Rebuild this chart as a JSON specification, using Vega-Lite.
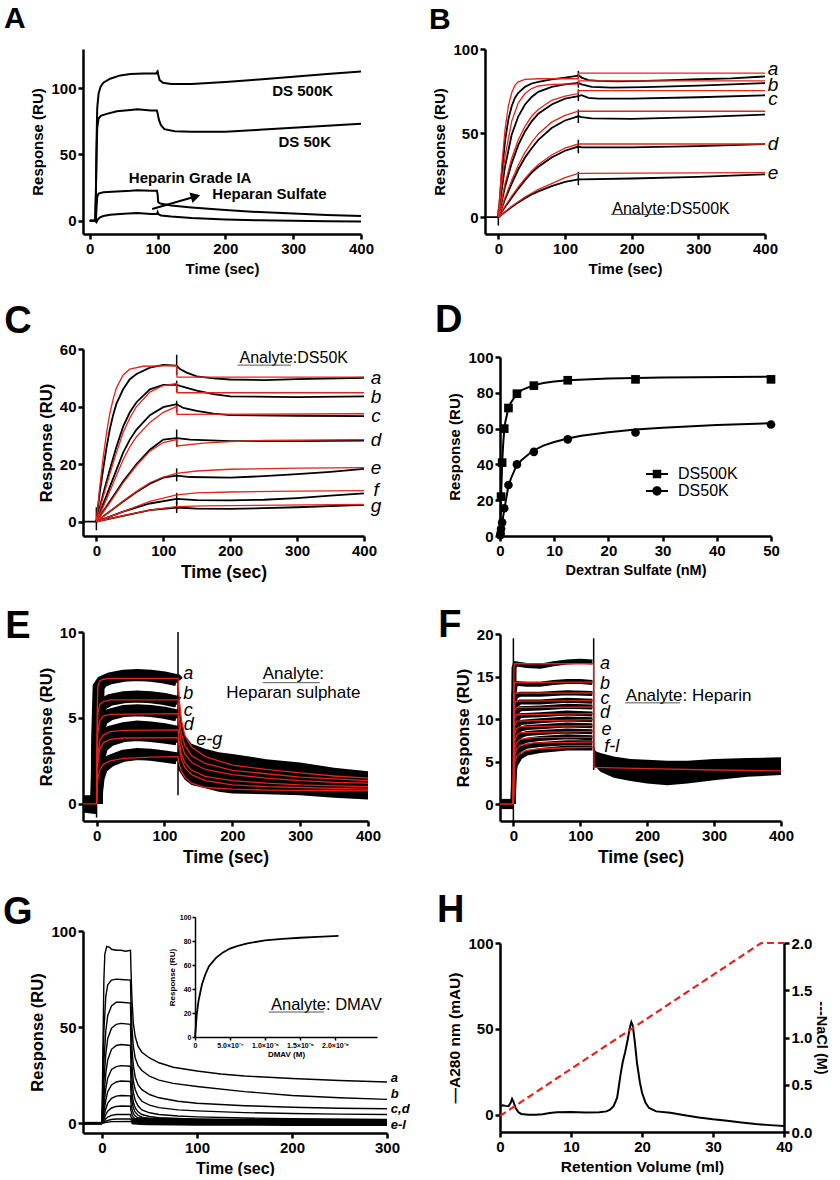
{
"$schema":"https://vega.github.io/schema/vega-lite/v6.json",
"background":"white",
"padding":{"left":2,"top":4,"right":0,"bottom":0},
"config":{"font":"Liberation Sans","view":{"stroke":null},
"axis":{"grid":false,"domainColor":"black","domainWidth":2.5,"tickColor":"black","tickWidth":2.5,"tickSize":5,"labelColor":"black","labelFont":"Liberation Sans","labelFontSize":15,"labelFontWeight":"bold","labelPadding":2,"titleColor":"black","titleFont":"Liberation Sans","titleFontSize":15.5,"titleFontWeight":"bold","titlePadding":5,"labelOverlap":false,"labelFlush":false},
"title":{"font":"Liberation Sans","fontSize":38,"fontWeight":"bold","anchor":"start","frame":"bounds","color":"black"},
"text":{"font":"Liberation Sans","color":"black"}},
"datasets":{
"A":[{"s":"p","t":0,"v":0},{"s":"p","t":8,"v":0},{"s":"p","t":9,"v":20},{"s":"p","t":10,"v":60},{"s":"p","t":11,"v":85},{"s":"p","t":13,"v":96},{"s":"p","t":16,"v":101},{"s":"p","t":20,"v":104},{"s":"p","t":30,"v":107},{"s":"p","t":45,"v":109.5},{"s":"p","t":60,"v":110.5},{"s":"p","t":80,"v":111},{"s":"p","t":98,"v":111},{"s":"p","t":100,"v":112.5},{"s":"p","t":101,"v":110},{"s":"p","t":103,"v":106},{"s":"p","t":108,"v":104},{"s":"p","t":120,"v":103},{"s":"p","t":150,"v":103},{"s":"p","t":200,"v":104.5},{"s":"p","t":250,"v":106.5},{"s":"p","t":300,"v":108.5},{"s":"p","t":350,"v":110.5},{"s":"p","t":400,"v":112.5},
{"s":"q","t":0,"v":0},{"s":"q","t":8,"v":0},{"s":"q","t":9,"v":20},{"s":"q","t":10,"v":50},{"s":"q","t":11,"v":70},{"s":"q","t":13,"v":77},{"s":"q","t":16,"v":79},{"s":"q","t":25,"v":80.5},{"s":"q","t":40,"v":82.5},{"s":"q","t":60,"v":83.5},{"s":"q","t":70,"v":84},{"s":"q","t":90,"v":83},{"s":"q","t":99,"v":83},{"s":"q","t":100,"v":81},{"s":"q","t":102,"v":76},{"s":"q","t":105,"v":72},{"s":"q","t":110,"v":69},{"s":"q","t":125,"v":67.5},{"s":"q","t":150,"v":67},{"s":"q","t":200,"v":67},{"s":"q","t":250,"v":68.5},{"s":"q","t":300,"v":70},{"s":"q","t":350,"v":71.5},{"s":"q","t":400,"v":73},
{"s":"r","t":0,"v":0},{"s":"r","t":8,"v":0},{"s":"r","t":9,"v":-0.5},{"s":"r","t":10,"v":10},{"s":"r","t":11,"v":18},{"s":"r","t":13,"v":20.5},{"s":"r","t":20,"v":21.5},{"s":"r","t":40,"v":22},{"s":"r","t":60,"v":22.5},{"s":"r","t":70,"v":23},{"s":"r","t":90,"v":22.5},{"s":"r","t":99,"v":22.5},{"s":"r","t":100,"v":20},{"s":"r","t":101,"v":14},{"s":"r","t":104,"v":13},{"s":"r","t":120,"v":11.5},{"s":"r","t":150,"v":10},{"s":"r","t":200,"v":8},{"s":"r","t":250,"v":6.5},{"s":"r","t":300,"v":5.5},{"s":"r","t":350,"v":4.3},{"s":"r","t":400,"v":3.5},
{"s":"s","t":0,"v":0},{"s":"s","t":8,"v":0},{"s":"s","t":10,"v":-1},{"s":"s","t":12,"v":1},{"s":"s","t":15,"v":2.5},{"s":"s","t":20,"v":3.5},{"s":"s","t":30,"v":4.5},{"s":"s","t":50,"v":5.3},{"s":"s","t":70,"v":5.8},{"s":"s","t":90,"v":5},{"s":"s","t":99,"v":5.2},{"s":"s","t":100,"v":6.5},{"s":"s","t":101,"v":5},{"s":"s","t":105,"v":4},{"s":"s","t":120,"v":3.2},{"s":"s","t":150,"v":2},{"s":"s","t":200,"v":1},{"s":"s","t":250,"v":0.3},{"s":"s","t":300,"v":0},{"s":"s","t":350,"v":-0.3},{"s":"s","t":400,"v":-0.5}],
"A_txt":[{"t":314,"v":98,"lab":"DS 500K"},{"t":317,"v":59,"lab":"DS 50K"},{"t":148,"v":32,"lab":"Heparin Grade IA"},{"t":265,"v":20,"lab":"Heparan Sulfate"}],
"A_arrow":[{"t":92,"v":8.8,"t2":156,"v2":18.3}],
"A_head":[{"t":156,"v":18.3}],
"B_dat":[{"c":"a","t":-20,"v":0},{"c":"a","t":0,"v":0},{"c":"a","t":5,"v":25},{"c":"a","t":10,"v":45},{"c":"a","t":15,"v":58},{"c":"a","t":20,"v":66},{"c":"a","t":25,"v":71},{"c":"a","t":30,"v":74},{"c":"a","t":40,"v":77.5},{"c":"a","t":50,"v":79.5},{"c":"a","t":60,"v":80.5},{"c":"a","t":80,"v":82},{"c":"a","t":100,"v":83},{"c":"a","t":118,"v":84},{"c":"a","t":120,"v":84.5},{"c":"a","t":125,"v":83},{"c":"a","t":135,"v":81.5},{"c":"a","t":150,"v":81},{"c":"a","t":180,"v":80.7},{"c":"a","t":220,"v":81},{"c":"a","t":260,"v":81.5},{"c":"a","t":300,"v":82},{"c":"a","t":350,"v":82.5},{"c":"a","t":400,"v":83.7},
{"c":"b","t":0,"v":0},{"c":"b","t":5,"v":16},{"c":"b","t":10,"v":30},{"c":"b","t":20,"v":49},{"c":"b","t":30,"v":60},{"c":"b","t":40,"v":67},{"c":"b","t":50,"v":71.5},{"c":"b","t":60,"v":74.5},{"c":"b","t":80,"v":77.5},{"c":"b","t":100,"v":79},{"c":"b","t":120,"v":79.8},{"c":"b","t":125,"v":79},{"c":"b","t":140,"v":77.5},{"c":"b","t":170,"v":77},{"c":"b","t":220,"v":77.3},{"c":"b","t":300,"v":78.2},{"c":"b","t":400,"v":79.7},
{"c":"c","t":0,"v":0},{"c":"c","t":10,"v":18},{"c":"c","t":20,"v":32},{"c":"c","t":30,"v":43},{"c":"c","t":40,"v":51},{"c":"c","t":50,"v":57},{"c":"c","t":60,"v":61.5},{"c":"c","t":80,"v":67},{"c":"c","t":100,"v":70.5},{"c":"c","t":120,"v":72},{"c":"c","t":125,"v":72.5},{"c":"c","t":135,"v":71},{"c":"c","t":150,"v":70.5},{"c":"c","t":200,"v":70.5},{"c":"c","t":300,"v":71.3},{"c":"c","t":400,"v":72.5},
{"c":"u","t":0,"v":0},{"c":"u","t":10,"v":10.5},{"c":"u","t":20,"v":20},{"c":"u","t":30,"v":28.5},{"c":"u","t":40,"v":35.5},{"c":"u","t":50,"v":41},{"c":"u","t":60,"v":46},{"c":"u","t":80,"v":53},{"c":"u","t":100,"v":57.5},{"c":"u","t":120,"v":60},{"c":"u","t":125,"v":59.5},{"c":"u","t":140,"v":58.8},{"c":"u","t":200,"v":58.5},{"c":"u","t":300,"v":59.5},{"c":"u","t":400,"v":61},
{"c":"d","t":0,"v":0},{"c":"d","t":10,"v":6},{"c":"d","t":20,"v":11.5},{"c":"d","t":30,"v":17},{"c":"d","t":40,"v":22},{"c":"d","t":50,"v":26.5},{"c":"d","t":60,"v":30},{"c":"d","t":80,"v":35.5},{"c":"d","t":100,"v":39.5},{"c":"d","t":120,"v":42},{"c":"d","t":125,"v":41.5},{"c":"d","t":200,"v":41.5},{"c":"d","t":300,"v":42.3},{"c":"d","t":400,"v":43.5},
{"c":"e","t":0,"v":0},{"c":"e","t":10,"v":3},{"c":"e","t":20,"v":6},{"c":"e","t":30,"v":8.8},{"c":"e","t":40,"v":11.3},{"c":"e","t":50,"v":13.5},{"c":"e","t":60,"v":15.3},{"c":"e","t":80,"v":18.5},{"c":"e","t":100,"v":21},{"c":"e","t":120,"v":22.5},{"c":"e","t":125,"v":22.5},{"c":"e","t":200,"v":23},{"c":"e","t":300,"v":24},{"c":"e","t":400,"v":25.5}],
"B_fit":[{"c":"a","t":0,"v":0},{"c":"a","t":5,"v":30},{"c":"a","t":10,"v":52},{"c":"a","t":15,"v":66},{"c":"a","t":20,"v":74},{"c":"a","t":25,"v":78.5},{"c":"a","t":30,"v":80.5},{"c":"a","t":40,"v":82},{"c":"a","t":60,"v":82.3},{"c":"a","t":120,"v":82.3},{"c":"a","t":120.5,"v":85.6},{"c":"a","t":400,"v":85.6},
{"c":"b","t":0,"v":0},{"c":"b","t":5,"v":20},{"c":"b","t":10,"v":36},{"c":"b","t":20,"v":57},{"c":"b","t":30,"v":68},{"c":"b","t":40,"v":73.5},{"c":"b","t":50,"v":76.5},{"c":"b","t":60,"v":78},{"c":"b","t":80,"v":79},{"c":"b","t":120,"v":79.3},{"c":"b","t":120.5,"v":81},{"c":"b","t":400,"v":81},
{"c":"c","t":0,"v":0},{"c":"c","t":10,"v":20},{"c":"c","t":20,"v":35},{"c":"c","t":30,"v":46},{"c":"c","t":40,"v":54},{"c":"c","t":50,"v":60},{"c":"c","t":60,"v":64},{"c":"c","t":80,"v":69.5},{"c":"c","t":100,"v":72},{"c":"c","t":120,"v":73.5},{"c":"c","t":120.5,"v":75.3},{"c":"c","t":400,"v":75.3},
{"c":"u","t":0,"v":0},{"c":"u","t":10,"v":11.5},{"c":"u","t":20,"v":22},{"c":"u","t":30,"v":31},{"c":"u","t":40,"v":38.5},{"c":"u","t":50,"v":44.5},{"c":"u","t":60,"v":49.5},{"c":"u","t":80,"v":56.5},{"c":"u","t":100,"v":60.5},{"c":"u","t":120,"v":63},{"c":"u","t":400,"v":63},
{"c":"d","t":0,"v":0},{"c":"d","t":10,"v":6.5},{"c":"d","t":20,"v":12.5},{"c":"d","t":30,"v":18},{"c":"d","t":40,"v":23},{"c":"d","t":50,"v":27.5},{"c":"d","t":60,"v":31.3},{"c":"d","t":80,"v":37},{"c":"d","t":100,"v":41},{"c":"d","t":120,"v":43.5},{"c":"d","t":400,"v":43.5},
{"c":"e","t":0,"v":0},{"c":"e","t":20,"v":6.5},{"c":"e","t":40,"v":12},{"c":"e","t":60,"v":16.5},{"c":"e","t":80,"v":20},{"c":"e","t":100,"v":23.5},{"c":"e","t":120,"v":26},{"c":"e","t":400,"v":26.5}],
"B_tk":[{"t":0,"v":-5,"v2":5},{"t":120,"v":19,"v2":27},{"t":120,"v":38,"v2":46},{"t":120,"v":56,"v2":64},{"t":120,"v":69,"v2":76},{"t":120,"v":77,"v2":81},{"t":120,"v":82,"v2":87}],
"B_txt":[{"t":412,"v":88,"lab":"a"},{"t":412,"v":78.5,"lab":"b"},{"t":412,"v":70,"lab":"c"},{"t":412,"v":43.5,"lab":"d"},{"t":412,"v":26,"lab":"e"}],
"B_an":[{"t":259,"v":5,"lab":"Analyte:DS500K"}],
"B_ul":[{"t":169,"t2":249,"v":1.6}],
"C_dat":[{"c":"a","t":-20,"v":0},{"c":"a","t":0,"v":0},{"c":"a","t":5,"v":10},{"c":"a","t":10,"v":18},{"c":"a","t":15,"v":25.5},{"c":"a","t":20,"v":32},{"c":"a","t":25,"v":37},{"c":"a","t":30,"v":41},{"c":"a","t":40,"v":46},{"c":"a","t":50,"v":49.5},{"c":"a","t":60,"v":51.3},{"c":"a","t":80,"v":53.5},{"c":"a","t":100,"v":54.5},{"c":"a","t":120,"v":54.2},{"c":"a","t":125,"v":53},{"c":"a","t":135,"v":51.8},{"c":"a","t":150,"v":50.5},{"c":"a","t":175,"v":49.8},{"c":"a","t":200,"v":49.4},{"c":"a","t":250,"v":49.2},{"c":"a","t":300,"v":49.5},{"c":"a","t":400,"v":50},
{"c":"b","t":0,"v":0},{"c":"b","t":10,"v":9.5},{"c":"b","t":20,"v":18},{"c":"b","t":30,"v":26},{"c":"b","t":40,"v":33},{"c":"b","t":50,"v":38},{"c":"b","t":60,"v":41.5},{"c":"b","t":80,"v":46},{"c":"b","t":100,"v":47.5},{"c":"b","t":120,"v":47.5},{"c":"b","t":130,"v":46.8},{"c":"b","t":150,"v":45.5},{"c":"b","t":175,"v":44.3},{"c":"b","t":200,"v":43.5},{"c":"b","t":300,"v":43.3},{"c":"b","t":400,"v":43.5},
{"c":"c","t":0,"v":0},{"c":"c","t":10,"v":6},{"c":"c","t":20,"v":12},{"c":"c","t":30,"v":18},{"c":"c","t":40,"v":24},{"c":"c","t":50,"v":28.5},{"c":"c","t":60,"v":32},{"c":"c","t":80,"v":37},{"c":"c","t":100,"v":39.8},{"c":"c","t":120,"v":40.8},{"c":"c","t":130,"v":39.5},{"c":"c","t":150,"v":38.5},{"c":"c","t":175,"v":37.5},{"c":"c","t":200,"v":37},{"c":"c","t":300,"v":36.8},{"c":"c","t":400,"v":36.7},
{"c":"d","t":0,"v":0},{"c":"d","t":10,"v":3.5},{"c":"d","t":20,"v":7},{"c":"d","t":30,"v":10.5},{"c":"d","t":40,"v":14},{"c":"d","t":50,"v":17},{"c":"d","t":60,"v":20},{"c":"d","t":80,"v":25},{"c":"d","t":100,"v":28.5},{"c":"d","t":120,"v":29},{"c":"d","t":140,"v":28.5},{"c":"d","t":200,"v":28},{"c":"d","t":300,"v":28},{"c":"d","t":400,"v":28.2},
{"c":"e","t":0,"v":0},{"c":"e","t":20,"v":3.5},{"c":"e","t":40,"v":7},{"c":"e","t":60,"v":10.3},{"c":"e","t":80,"v":13.2},{"c":"e","t":100,"v":15.3},{"c":"e","t":120,"v":16},{"c":"e","t":140,"v":15.5},{"c":"e","t":200,"v":15.3},{"c":"e","t":250,"v":15.8},{"c":"e","t":300,"v":16.5},{"c":"e","t":350,"v":17.3},{"c":"e","t":400,"v":18.3},
{"c":"f","t":0,"v":0},{"c":"f","t":40,"v":3.5},{"c":"f","t":80,"v":6.3},{"c":"f","t":120,"v":7.9},{"c":"f","t":150,"v":7.5},{"c":"f","t":200,"v":7.4},{"c":"f","t":250,"v":7.6},{"c":"f","t":300,"v":8.2},{"c":"f","t":350,"v":9},{"c":"f","t":400,"v":9.8},
{"c":"g","t":0,"v":0},{"c":"g","t":40,"v":2},{"c":"g","t":80,"v":4},{"c":"g","t":120,"v":4.9},{"c":"g","t":150,"v":4.5},{"c":"g","t":200,"v":4.4},{"c":"g","t":300,"v":5},{"c":"g","t":400,"v":5.8}],
"C_fit":[{"c":"a","t":0,"v":0},{"c":"a","t":5,"v":12},{"c":"a","t":10,"v":22},{"c":"a","t":15,"v":30.5},{"c":"a","t":20,"v":37.5},{"c":"a","t":25,"v":42.5},{"c":"a","t":30,"v":46.5},{"c":"a","t":40,"v":51},{"c":"a","t":50,"v":53},{"c":"a","t":70,"v":54},{"c":"a","t":120,"v":54.2},{"c":"a","t":120.5,"v":50.2},{"c":"a","t":400,"v":50.2},
{"c":"b","t":0,"v":0},{"c":"b","t":10,"v":8.5},{"c":"b","t":20,"v":16.5},{"c":"b","t":30,"v":24},{"c":"b","t":40,"v":31},{"c":"b","t":50,"v":36},{"c":"b","t":60,"v":40},{"c":"b","t":80,"v":45},{"c":"b","t":100,"v":47.3},{"c":"b","t":120,"v":48},{"c":"b","t":120.5,"v":44.8},{"c":"b","t":400,"v":44.8},
{"c":"c","t":0,"v":0},{"c":"c","t":10,"v":5},{"c":"c","t":20,"v":10.5},{"c":"c","t":30,"v":16},{"c":"c","t":40,"v":21.5},{"c":"c","t":50,"v":26},{"c":"c","t":60,"v":29.5},{"c":"c","t":80,"v":34.5},{"c":"c","t":100,"v":38},{"c":"c","t":120,"v":40},{"c":"c","t":120.5,"v":37.3},{"c":"c","t":400,"v":37.5},
{"c":"d","t":0,"v":0},{"c":"d","t":20,"v":6.5},{"c":"d","t":40,"v":13.5},{"c":"d","t":60,"v":19.5},{"c":"d","t":80,"v":24.5},{"c":"d","t":100,"v":27.5},{"c":"d","t":120,"v":28.5},{"c":"d","t":120.5,"v":26.3},{"c":"d","t":160,"v":27.3},{"c":"d","t":200,"v":27.8},{"c":"d","t":250,"v":28.2},{"c":"d","t":400,"v":28.5},
{"c":"e","t":0,"v":0},{"c":"e","t":20,"v":3.5},{"c":"e","t":40,"v":7.2},{"c":"e","t":60,"v":10.5},{"c":"e","t":80,"v":13.5},{"c":"e","t":100,"v":15.5},{"c":"e","t":120,"v":16.8},{"c":"e","t":150,"v":17.6},{"c":"e","t":200,"v":18.2},{"c":"e","t":300,"v":18.6},{"c":"e","t":400,"v":18.8},
{"c":"f","t":0,"v":0},{"c":"f","t":40,"v":3.5},{"c":"f","t":80,"v":7},{"c":"f","t":120,"v":9.3},{"c":"f","t":150,"v":10},{"c":"f","t":200,"v":10.3},{"c":"f","t":300,"v":10.6},{"c":"f","t":400,"v":10.8},
{"c":"g","t":0,"v":0},{"c":"g","t":40,"v":2.1},{"c":"g","t":80,"v":4},{"c":"g","t":120,"v":5.2},{"c":"g","t":160,"v":5.5},{"c":"g","t":400,"v":6}],
"C_tk":[{"t":0,"v":-3,"v2":5},{"t":120,"v":3,"v2":7},{"t":120,"v":6,"v2":10},{"t":120,"v":14,"v2":18.5},{"t":120,"v":26,"v2":32},{"t":120,"v":38,"v2":42},{"t":120,"v":45,"v2":49},{"t":120,"v":51,"v2":58}],
"C_txt":[{"t":418,"v":50,"lab":"a"},{"t":418,"v":43.2,"lab":"b"},{"t":418,"v":36.8,"lab":"c"},{"t":418,"v":28.5,"lab":"d"},{"t":418,"v":18.5,"lab":"e"},{"t":418,"v":11,"lab":"f"},{"t":418,"v":5.5,"lab":"g"}],
"C_an":[{"t":295,"v":56.8,"lab":"Analyte:DS50K"}],
"C_ul":[{"t":211,"t2":291,"v":54.4}],
"D_pts":[{"s":"DS500K","t":0.195,"v":22},{"s":"DS500K","t":0.39,"v":41},{"s":"DS500K","t":0.78,"v":60},{"s":"DS500K","t":1.56,"v":71.5},{"s":"DS500K","t":3.125,"v":79.5},{"s":"DS500K","t":6.25,"v":84},{"s":"DS500K","t":12.5,"v":87},{"s":"DS500K","t":25,"v":87.5},{"s":"DS500K","t":50,"v":87.5},
{"s":"DS50K","t":0.05,"v":0.5},{"s":"DS50K","t":0.1,"v":1.5},{"s":"DS50K","t":0.195,"v":4},{"s":"DS50K","t":0.39,"v":7.5},{"s":"DS50K","t":0.78,"v":15.5},{"s":"DS50K","t":1.56,"v":28.5},{"s":"DS50K","t":3.125,"v":40},{"s":"DS50K","t":6.25,"v":47},{"s":"DS50K","t":12.5,"v":54},{"s":"DS50K","t":25,"v":57.8},{"s":"DS50K","t":50,"v":62.3}],
"D_fit":[{"series":"DS500K","t":0,"v":0},{"series":"DS500K","t":0.2,"v":22},{"series":"DS500K","t":0.4,"v":41},{"series":"DS500K","t":0.6,"v":52},{"series":"DS500K","t":0.8,"v":60},{"series":"DS500K","t":1,"v":64},{"series":"DS500K","t":1.56,"v":71.5},{"series":"DS500K","t":2,"v":74.5},{"series":"DS500K","t":3,"v":79},{"series":"DS500K","t":4,"v":81.5},{"series":"DS500K","t":6,"v":84},{"series":"DS500K","t":8,"v":85.5},{"series":"DS500K","t":10,"v":86.3},{"series":"DS500K","t":12.5,"v":87},{"series":"DS500K","t":20,"v":88},{"series":"DS500K","t":30,"v":88.5},{"series":"DS500K","t":50,"v":89},
{"series":"DS50K","t":0,"v":0},{"series":"DS50K","t":0.4,"v":7.5},{"series":"DS50K","t":0.8,"v":15},{"series":"DS50K","t":1.5,"v":27},{"series":"DS50K","t":2,"v":32},{"series":"DS50K","t":3,"v":39},{"series":"DS50K","t":4,"v":42.5},{"series":"DS50K","t":6,"v":47.5},{"series":"DS50K","t":8,"v":50.5},{"series":"DS50K","t":10,"v":52.5},{"series":"DS50K","t":12.5,"v":54.5},{"series":"DS50K","t":15,"v":56},{"series":"DS50K","t":20,"v":58},{"series":"DS50K","t":25,"v":59.5},{"series":"DS50K","t":30,"v":60.5},{"series":"DS50K","t":40,"v":62},{"series":"DS50K","t":50,"v":63}],
"E_blk":[{"c":"a","t":0,"v":0},{"c":"a","t":1,"v":4},{"c":"a","t":3,"v":6.8},{"c":"a","t":8,"v":7.1},{"c":"a","t":20,"v":7.3},{"c":"a","t":40,"v":7.45},{"c":"a","t":60,"v":7.5},{"c":"a","t":80,"v":7.45},{"c":"a","t":100,"v":7.35},{"c":"a","t":118,"v":7.2},{"c":"a","t":120,"v":7.1},
{"c":"b","t":0,"v":0},{"c":"b","t":1,"v":3},{"c":"b","t":3,"v":5.3},{"c":"b","t":8,"v":5.8},{"c":"b","t":20,"v":6.05},{"c":"b","t":40,"v":6.2},{"c":"b","t":60,"v":6.25},{"c":"b","t":80,"v":6.2},{"c":"b","t":100,"v":6.1},{"c":"b","t":118,"v":5.95},{"c":"b","t":120,"v":5.9},
{"c":"c","t":0,"v":0},{"c":"c","t":1,"v":2.3},{"c":"c","t":3,"v":4.2},{"c":"c","t":8,"v":4.9},{"c":"c","t":20,"v":5.2},{"c":"c","t":40,"v":5.4},{"c":"c","t":60,"v":5.45},{"c":"c","t":80,"v":5.4},{"c":"c","t":100,"v":5.3},{"c":"c","t":118,"v":5.15},{"c":"c","t":120,"v":5.1},
{"c":"d","t":0,"v":0},{"c":"d","t":1,"v":1.5},{"c":"d","t":3,"v":3},{"c":"d","t":8,"v":3.8},{"c":"d","t":20,"v":4.2},{"c":"d","t":40,"v":4.4},{"c":"d","t":60,"v":4.5},{"c":"d","t":80,"v":4.45},{"c":"d","t":100,"v":4.35},{"c":"d","t":118,"v":4.2},{"c":"d","t":120,"v":4.1},
{"c":"e","t":0,"v":0},{"c":"e","t":1,"v":1.2},{"c":"e","t":3,"v":2.5},{"c":"e","t":8,"v":3.3},{"c":"e","t":20,"v":3.7},{"c":"e","t":40,"v":3.95},{"c":"e","t":60,"v":4},{"c":"e","t":80,"v":3.95},{"c":"e","t":100,"v":3.85},{"c":"e","t":118,"v":3.75},{"c":"e","t":120,"v":3.6},
{"c":"f","t":0,"v":0},{"c":"f","t":1,"v":0.8},{"c":"f","t":3,"v":1.5},{"c":"f","t":8,"v":2.1},{"c":"f","t":20,"v":2.5},{"c":"f","t":40,"v":2.8},{"c":"f","t":60,"v":2.9},{"c":"f","t":80,"v":2.85},{"c":"f","t":100,"v":2.75},{"c":"f","t":118,"v":2.65},{"c":"f","t":120,"v":2.6}],
"E_env":[{"g":"base","t":-20,"v":-0.5,"v2":0.5},{"g":"base","t":0,"v":-0.6,"v2":0.5},
{"g":"diss","t":120,"v":2,"v2":7.3},{"g":"diss","t":122,"v":1.9,"v2":6},{"g":"diss","t":125,"v":1.7,"v2":4.8},{"g":"diss","t":130,"v":1.4,"v2":4},{"g":"diss","t":140,"v":1.1,"v2":3.5},{"g":"diss","t":160,"v":0.9,"v2":3.2},{"g":"diss","t":180,"v":0.7,"v2":3},{"g":"diss","t":200,"v":0.6,"v2":2.9},{"g":"diss","t":250,"v":0.55,"v2":2.6},{"g":"diss","t":300,"v":0.5,"v2":2.4},{"g":"diss","t":350,"v":0.35,"v2":2.1},{"g":"diss","t":400,"v":0.25,"v2":1.9}],
"E_fit":[{"c":"a","t":-20,"v":0},{"c":"a","t":0,"v":0},{"c":"a","t":1,"v":5.5},{"c":"a","t":2,"v":6.9},{"c":"a","t":5,"v":7.15},{"c":"a","t":10,"v":7.25},{"c":"a","t":20,"v":7.3},{"c":"a","t":120,"v":7.3},{"c":"a","t":122,"v":6},{"c":"a","t":125,"v":4.9},{"c":"a","t":130,"v":4},{"c":"a","t":140,"v":3.3},{"c":"a","t":160,"v":2.75},{"c":"a","t":200,"v":2.25},{"c":"a","t":250,"v":2},{"c":"a","t":300,"v":1.8},{"c":"a","t":350,"v":1.62},{"c":"a","t":400,"v":1.5},
{"c":"b","t":0,"v":0},{"c":"b","t":1,"v":4},{"c":"b","t":2,"v":5.3},{"c":"b","t":5,"v":5.8},{"c":"b","t":10,"v":5.95},{"c":"b","t":20,"v":6.05},{"c":"b","t":120,"v":6.05},{"c":"b","t":122,"v":5},{"c":"b","t":125,"v":4.1},{"c":"b","t":130,"v":3.4},{"c":"b","t":140,"v":2.8},{"c":"b","t":160,"v":2.35},{"c":"b","t":200,"v":1.95},{"c":"b","t":250,"v":1.75},{"c":"b","t":300,"v":1.55},{"c":"b","t":350,"v":1.45},{"c":"b","t":400,"v":1.35},
{"c":"c","t":0,"v":0},{"c":"c","t":1,"v":3},{"c":"c","t":2,"v":4.2},{"c":"c","t":5,"v":4.85},{"c":"c","t":10,"v":5.1},{"c":"c","t":20,"v":5.2},{"c":"c","t":120,"v":5.25},{"c":"c","t":122,"v":4.3},{"c":"c","t":125,"v":3.5},{"c":"c","t":130,"v":2.9},{"c":"c","t":140,"v":2.4},{"c":"c","t":160,"v":2},{"c":"c","t":200,"v":1.7},{"c":"c","t":250,"v":1.5},{"c":"c","t":300,"v":1.35},{"c":"c","t":350,"v":1.25},{"c":"c","t":400,"v":1.2},
{"c":"d","t":0,"v":0},{"c":"d","t":1,"v":2},{"c":"d","t":2,"v":2.9},{"c":"d","t":5,"v":3.7},{"c":"d","t":10,"v":4},{"c":"d","t":20,"v":4.2},{"c":"d","t":40,"v":4.28},{"c":"d","t":120,"v":4.3},{"c":"d","t":122,"v":3.6},{"c":"d","t":125,"v":2.9},{"c":"d","t":130,"v":2.4},{"c":"d","t":140,"v":1.95},{"c":"d","t":160,"v":1.6},{"c":"d","t":200,"v":1.35},{"c":"d","t":250,"v":1.2},{"c":"d","t":300,"v":1.1},{"c":"d","t":350,"v":1.05},{"c":"d","t":400,"v":1},
{"c":"e","t":0,"v":0},{"c":"e","t":1,"v":1.6},{"c":"e","t":2,"v":2.4},{"c":"e","t":5,"v":3.2},{"c":"e","t":10,"v":3.55},{"c":"e","t":20,"v":3.75},{"c":"e","t":40,"v":3.83},{"c":"e","t":120,"v":3.85},{"c":"e","t":122,"v":3.2},{"c":"e","t":125,"v":2.6},{"c":"e","t":130,"v":2.1},{"c":"e","t":140,"v":1.7},{"c":"e","t":160,"v":1.35},{"c":"e","t":200,"v":1.1},{"c":"e","t":250,"v":1},{"c":"e","t":300,"v":0.95},{"c":"e","t":350,"v":0.9},{"c":"e","t":400,"v":0.85},
{"c":"f","t":0,"v":0},{"c":"f","t":1,"v":1},{"c":"f","t":2,"v":1.5},{"c":"f","t":5,"v":2},{"c":"f","t":10,"v":2.3},{"c":"f","t":20,"v":2.5},{"c":"f","t":40,"v":2.65},{"c":"f","t":80,"v":2.72},{"c":"f","t":120,"v":2.75},{"c":"f","t":122,"v":2.3},{"c":"f","t":125,"v":1.9},{"c":"f","t":130,"v":1.55},{"c":"f","t":140,"v":1.2},{"c":"f","t":160,"v":0.95},{"c":"f","t":200,"v":0.85},{"c":"f","t":250,"v":0.8},{"c":"f","t":300,"v":0.78},{"c":"f","t":350,"v":0.76},{"c":"f","t":400,"v":0.75}],
"E_tk":[{"t":0,"v":-0.8,"v2":1},{"t":120,"v":0.5,"v2":10}],
"E_txt":[{"t":135,"v":7.55,"lab":"a"},{"t":135,"v":6.4,"lab":"b"},{"t":135,"v":5.43,"lab":"c"},{"t":136,"v":4.6,"lab":"d"},{"t":166,"v":3.7,"lab":"e-g"}],
"E_an":[{"t":290,"v":7.55,"lab":"Analyte:"},{"t":290,"v":6.45,"lab":"Heparan sulphate"}],
"E_ul":[{"t":245,"t2":329,"v":7.05}],
"F_blk":[{"c":"a","t":0,"v":0},{"c":"a","t":0.5,"v":12},{"c":"a","t":1,"v":16},{"c":"a","t":3,"v":16.5},{"c":"a","t":20,"v":16.3},{"c":"a","t":40,"v":16.2},{"c":"a","t":60,"v":16.5},{"c":"a","t":80,"v":16.7},{"c":"a","t":100,"v":16.8},{"c":"a","t":118,"v":16.7},
{"c":"b","t":0,"v":0},{"c":"b","t":0.5,"v":9},{"c":"b","t":1,"v":13},{"c":"b","t":3,"v":14.2},{"c":"b","t":20,"v":14.1},{"c":"b","t":40,"v":14.1},{"c":"b","t":60,"v":14.3},{"c":"b","t":80,"v":14.4},{"c":"b","t":100,"v":14.4},{"c":"b","t":118,"v":14.3},
{"c":"c","t":0,"v":0},{"c":"c","t":0.5,"v":8},{"c":"c","t":1,"v":11.5},{"c":"c","t":3,"v":12.7},{"c":"c","t":10,"v":12.9},{"c":"c","t":40,"v":12.9},{"c":"c","t":80,"v":13.1},{"c":"c","t":118,"v":13},
{"c":"d","t":0,"v":0},{"c":"d","t":0.5,"v":7},{"c":"d","t":1,"v":10},{"c":"d","t":3,"v":11.6},{"c":"d","t":10,"v":12},{"c":"d","t":40,"v":12},{"c":"d","t":80,"v":12.2},{"c":"d","t":118,"v":12.1},
{"c":"e","t":0,"v":0},{"c":"e","t":0.5,"v":6},{"c":"e","t":1,"v":9},{"c":"e","t":3,"v":10.7},{"c":"e","t":10,"v":11.2},{"c":"e","t":40,"v":11.3},{"c":"e","t":80,"v":11.5},{"c":"e","t":118,"v":11.4},
{"c":"f","t":0,"v":0},{"c":"f","t":0.5,"v":5.5},{"c":"f","t":1,"v":8},{"c":"f","t":3,"v":9.8},{"c":"f","t":10,"v":10.4},{"c":"f","t":40,"v":10.5},{"c":"f","t":80,"v":10.7},{"c":"f","t":118,"v":10.6},
{"c":"g","t":0,"v":0},{"c":"g","t":0.5,"v":5},{"c":"g","t":1,"v":7},{"c":"g","t":3,"v":8.9},{"c":"g","t":10,"v":9.6},{"c":"g","t":40,"v":9.8},{"c":"g","t":80,"v":10},{"c":"g","t":118,"v":9.9},
{"c":"h","t":0,"v":0},{"c":"h","t":0.5,"v":4.5},{"c":"h","t":1,"v":6.3},{"c":"h","t":3,"v":8},{"c":"h","t":10,"v":8.8},{"c":"h","t":20,"v":9},{"c":"h","t":40,"v":9.1},{"c":"h","t":80,"v":9.3},{"c":"h","t":118,"v":9.2},
{"c":"i","t":0,"v":0},{"c":"i","t":0.5,"v":4},{"c":"i","t":1,"v":5.6},{"c":"i","t":3,"v":7.1},{"c":"i","t":10,"v":8},{"c":"i","t":20,"v":8.3},{"c":"i","t":40,"v":8.4},{"c":"i","t":80,"v":8.6},{"c":"i","t":118,"v":8.5},
{"c":"j","t":0,"v":0},{"c":"j","t":0.5,"v":3.5},{"c":"j","t":1,"v":5},{"c":"j","t":3,"v":6.3},{"c":"j","t":10,"v":7.2},{"c":"j","t":20,"v":7.5},{"c":"j","t":40,"v":7.7},{"c":"j","t":80,"v":7.9},{"c":"j","t":118,"v":7.8},
{"c":"k","t":0,"v":0},{"c":"k","t":0.5,"v":3},{"c":"k","t":1,"v":4.3},{"c":"k","t":3,"v":5.5},{"c":"k","t":10,"v":6.4},{"c":"k","t":20,"v":6.8},{"c":"k","t":40,"v":7},{"c":"k","t":80,"v":7.2},{"c":"k","t":118,"v":7.2},
{"c":"l","t":0,"v":0},{"c":"l","t":0.5,"v":2.5},{"c":"l","t":1,"v":3.6},{"c":"l","t":3,"v":4.6},{"c":"l","t":10,"v":5.5},{"c":"l","t":20,"v":6},{"c":"l","t":40,"v":6.3},{"c":"l","t":80,"v":6.6},{"c":"l","t":118,"v":6.6}],
"F_env":[{"g":"base","t":-20,"v":-0.6,"v2":0.6},{"g":"base","t":0,"v":-0.6,"v2":0.6},
{"g":"diss","t":120,"v":4.2,"v2":7},{"g":"diss","t":123,"v":4.4,"v2":6.2},{"g":"diss","t":130,"v":3.8,"v2":6},{"g":"diss","t":150,"v":3.1,"v2":5.6},{"g":"diss","t":175,"v":2.7,"v2":5.3},{"g":"diss","t":200,"v":2.4,"v2":5.2},{"g":"diss","t":230,"v":2.2,"v2":5.1},{"g":"diss","t":260,"v":2.4,"v2":5.1},{"g":"diss","t":300,"v":2.8,"v2":5.3},{"g":"diss","t":350,"v":3.2,"v2":5.4},{"g":"diss","t":400,"v":3.4,"v2":5.5}],
"F_fit":[{"c":"a","t":-20,"v":0},{"c":"a","t":0,"v":0},{"c":"a","t":0.5,"v":13},{"c":"a","t":1,"v":16.2},{"c":"a","t":2,"v":16.5},{"c":"a","t":120,"v":16.5},
{"c":"b","t":0,"v":0},{"c":"b","t":0.5,"v":11},{"c":"b","t":1,"v":13.8},{"c":"b","t":2,"v":14.3},{"c":"b","t":120,"v":14.35},
{"c":"c","t":0,"v":0},{"c":"c","t":0.5,"v":9.5},{"c":"c","t":1,"v":12.3},{"c":"c","t":2,"v":12.9},{"c":"c","t":5,"v":13.05},{"c":"c","t":120,"v":13.06},
{"c":"d","t":0,"v":0},{"c":"d","t":0.5,"v":8.5},{"c":"d","t":1,"v":11.2},{"c":"d","t":2,"v":11.9},{"c":"d","t":5,"v":12.1},{"c":"d","t":120,"v":12.16},
{"c":"e","t":0,"v":0},{"c":"e","t":0.5,"v":7.5},{"c":"e","t":1,"v":10.2},{"c":"e","t":2,"v":11},{"c":"e","t":5,"v":11.35},{"c":"e","t":120,"v":11.41},
{"c":"f","t":0,"v":0},{"c":"f","t":0.5,"v":6.5},{"c":"f","t":1,"v":9.2},{"c":"f","t":2,"v":10.1},{"c":"f","t":5,"v":10.5},{"c":"f","t":120,"v":10.63},
{"c":"g","t":0,"v":0},{"c":"g","t":0.5,"v":5.8},{"c":"g","t":1,"v":8.2},{"c":"g","t":2,"v":9.2},{"c":"g","t":5,"v":9.75},{"c":"g","t":120,"v":9.92},
{"c":"h","t":0,"v":0},{"c":"h","t":0.5,"v":5},{"c":"h","t":1,"v":7.2},{"c":"h","t":2,"v":8.3},{"c":"h","t":5,"v":8.9},{"c":"h","t":10,"v":9.1},{"c":"h","t":120,"v":9.22},
{"c":"i","t":0,"v":0},{"c":"i","t":0.5,"v":4.4},{"c":"i","t":1,"v":6.3},{"c":"i","t":2,"v":7.4},{"c":"i","t":5,"v":8.1},{"c":"i","t":10,"v":8.4},{"c":"i","t":120,"v":8.55},
{"c":"j","t":0,"v":0},{"c":"j","t":0.5,"v":3.8},{"c":"j","t":1,"v":5.5},{"c":"j","t":2,"v":6.5},{"c":"j","t":5,"v":7.2},{"c":"j","t":10,"v":7.6},{"c":"j","t":30,"v":7.8},{"c":"j","t":120,"v":7.84},
{"c":"k","t":0,"v":0},{"c":"k","t":0.5,"v":3.2},{"c":"k","t":1,"v":4.7},{"c":"k","t":2,"v":5.7},{"c":"k","t":5,"v":6.5},{"c":"k","t":10,"v":6.9},{"c":"k","t":30,"v":7.2},{"c":"k","t":120,"v":7.29},
{"c":"l","t":0,"v":0},{"c":"l","t":0.5,"v":2.7},{"c":"l","t":1,"v":4},{"c":"l","t":2,"v":4.9},{"c":"l","t":5,"v":5.6},{"c":"l","t":10,"v":6},{"c":"l","t":20,"v":6.3},{"c":"l","t":40,"v":6.5},{"c":"l","t":80,"v":6.62},{"c":"l","t":120,"v":6.67},
{"c":"z","t":120,"v":16.5},{"c":"z","t":120.5,"v":4.3},{"c":"z","t":150,"v":4.25},{"c":"z","t":200,"v":4.15},{"c":"z","t":300,"v":4},{"c":"z","t":400,"v":3.9}],
"F_tk":[{"t":0,"v":-2,"v2":19.5},{"t":120,"v":4,"v2":19.5}],
"F_txt":[{"t":137,"v":16.5,"lab":"a"},{"t":137,"v":14.1,"lab":"b"},{"t":137,"v":12.3,"lab":"c"},{"t":137,"v":10.7,"lab":"d"},{"t":139,"v":8.75,"lab":"e"},{"t":147,"v":6.7,"lab":"f-l"}],
"F_an":[{"t":262,"v":12.7,"lab":"Analyte: Heparin"}],
"F_ul":[{"t":167,"t2":249,"v":11.9}],
"G":[{"c":"a","t":-20,"v":0},{"c":"a","t":0,"v":0},{"c":"a","t":1,"v":40},{"c":"a","t":2,"v":75},{"c":"a","t":3,"v":88},{"c":"a","t":5,"v":92},{"c":"a","t":8,"v":91.5},{"c":"a","t":10,"v":90.5},{"c":"a","t":15,"v":90},{"c":"a","t":20,"v":90},{"c":"a","t":25,"v":89.5},{"c":"a","t":30,"v":90},{"c":"a","t":30.5,"v":80},{"c":"a","t":31.5,"v":65},{"c":"a","t":33,"v":52},{"c":"a","t":35,"v":45},{"c":"a","t":38,"v":40},{"c":"a","t":42,"v":37},{"c":"a","t":50,"v":34},{"c":"a","t":60,"v":31.5},{"c":"a","t":75,"v":29.2},{"c":"a","t":100,"v":27.2},{"c":"a","t":125,"v":25.7},{"c":"a","t":150,"v":24.6},{"c":"a","t":200,"v":23.3},{"c":"a","t":250,"v":22.3},{"c":"a","t":300,"v":21.5},
{"c":"b","t":0,"v":0},{"c":"b","t":1,"v":25},{"c":"b","t":2,"v":48},{"c":"b","t":4,"v":66},{"c":"b","t":6,"v":72},{"c":"b","t":10,"v":74.5},{"c":"b","t":15,"v":75},{"c":"b","t":20,"v":74.8},{"c":"b","t":30,"v":74.5},{"c":"b","t":30.5,"v":62},{"c":"b","t":31.5,"v":50},{"c":"b","t":33,"v":40},{"c":"b","t":35,"v":34},{"c":"b","t":38,"v":30},{"c":"b","t":42,"v":27.5},{"c":"b","t":50,"v":24.5},{"c":"b","t":60,"v":22.5},{"c":"b","t":75,"v":20.8},{"c":"b","t":100,"v":19.2},{"c":"b","t":150,"v":16.5},{"c":"b","t":200,"v":14.5},{"c":"b","t":250,"v":13.3},{"c":"b","t":300,"v":12.5},
{"c":"c","t":0,"v":0},{"c":"c","t":1,"v":15},{"c":"c","t":2,"v":32},{"c":"c","t":4,"v":48},{"c":"c","t":6,"v":56},{"c":"c","t":10,"v":61},{"c":"c","t":15,"v":63},{"c":"c","t":20,"v":63},{"c":"c","t":30,"v":62.5},{"c":"c","t":30.5,"v":50},{"c":"c","t":31.5,"v":39},{"c":"c","t":33,"v":30},{"c":"c","t":35,"v":24},{"c":"c","t":38,"v":20},{"c":"c","t":42,"v":17.5},{"c":"c","t":50,"v":15},{"c":"c","t":60,"v":13.3},{"c":"c","t":80,"v":11.5},{"c":"c","t":100,"v":10.5},{"c":"c","t":150,"v":9.2},{"c":"c","t":200,"v":8.4},{"c":"c","t":250,"v":7.9},{"c":"c","t":300,"v":7.6},
{"c":"d","t":0,"v":0},{"c":"d","t":1,"v":10},{"c":"d","t":2,"v":22},{"c":"d","t":4,"v":36},{"c":"d","t":6,"v":44},{"c":"d","t":10,"v":49.5},{"c":"d","t":15,"v":51.5},{"c":"d","t":20,"v":52},{"c":"d","t":30,"v":51.5},{"c":"d","t":30.5,"v":40},{"c":"d","t":31.5,"v":30},{"c":"d","t":33,"v":22},{"c":"d","t":35,"v":17.5},{"c":"d","t":38,"v":14},{"c":"d","t":42,"v":11.5},{"c":"d","t":50,"v":9.5},{"c":"d","t":60,"v":8.2},{"c":"d","t":80,"v":7},{"c":"d","t":100,"v":6.5},{"c":"d","t":150,"v":5.6},{"c":"d","t":200,"v":5.1},{"c":"d","t":250,"v":4.8},{"c":"d","t":300,"v":4.6},
{"c":"e","t":0,"v":0},{"c":"e","t":1,"v":6},{"c":"e","t":2,"v":14},{"c":"e","t":4,"v":26},{"c":"e","t":6,"v":33},{"c":"e","t":10,"v":38.5},{"c":"e","t":15,"v":40.5},{"c":"e","t":20,"v":41},{"c":"e","t":30,"v":40.5},{"c":"e","t":30.5,"v":31},{"c":"e","t":31.5,"v":23},{"c":"e","t":33,"v":16},{"c":"e","t":35,"v":12},{"c":"e","t":38,"v":9},{"c":"e","t":42,"v":7},{"c":"e","t":50,"v":5.5},{"c":"e","t":60,"v":4.6},{"c":"e","t":80,"v":3.8},{"c":"e","t":100,"v":3.4},{"c":"e","t":150,"v":2.8},{"c":"e","t":200,"v":2.4},{"c":"e","t":300,"v":2},
{"c":"f","t":0,"v":0},{"c":"f","t":1,"v":4},{"c":"f","t":2,"v":9},{"c":"f","t":4,"v":18},{"c":"f","t":6,"v":23.5},{"c":"f","t":10,"v":28},{"c":"f","t":15,"v":29.5},{"c":"f","t":20,"v":30},{"c":"f","t":30,"v":29.7},{"c":"f","t":30.5,"v":22},{"c":"f","t":31.5,"v":16},{"c":"f","t":33,"v":11},{"c":"f","t":35,"v":8},{"c":"f","t":38,"v":6},{"c":"f","t":42,"v":4.6},{"c":"f","t":50,"v":3.6},{"c":"f","t":60,"v":3},{"c":"f","t":80,"v":2.5},{"c":"f","t":100,"v":2.2},{"c":"f","t":150,"v":1.8},{"c":"f","t":200,"v":1.5},{"c":"f","t":300,"v":1.3},
{"c":"g","t":0,"v":0},{"c":"g","t":1,"v":2.5},{"c":"g","t":2,"v":6},{"c":"g","t":4,"v":12},{"c":"g","t":6,"v":16.5},{"c":"g","t":10,"v":20},{"c":"g","t":15,"v":21.5},{"c":"g","t":20,"v":22},{"c":"g","t":30,"v":21.8},{"c":"g","t":30.5,"v":16},{"c":"g","t":31.5,"v":11.5},{"c":"g","t":33,"v":8},{"c":"g","t":35,"v":5.8},{"c":"g","t":38,"v":4.2},{"c":"g","t":42,"v":3.2},{"c":"g","t":50,"v":2.4},{"c":"g","t":60,"v":2},{"c":"g","t":100,"v":1.5},{"c":"g","t":200,"v":1.1},{"c":"g","t":300,"v":0.9},
{"c":"h","t":0,"v":0},{"c":"h","t":1,"v":1.5},{"c":"h","t":2,"v":3.5},{"c":"h","t":4,"v":7.5},{"c":"h","t":6,"v":10.5},{"c":"h","t":10,"v":13},{"c":"h","t":15,"v":14.2},{"c":"h","t":20,"v":14.5},{"c":"h","t":30,"v":14.3},{"c":"h","t":30.5,"v":10.5},{"c":"h","t":31.5,"v":7.5},{"c":"h","t":33,"v":5.2},{"c":"h","t":35,"v":3.8},{"c":"h","t":38,"v":2.8},{"c":"h","t":42,"v":2.1},{"c":"h","t":50,"v":1.6},{"c":"h","t":60,"v":1.3},{"c":"h","t":100,"v":1},{"c":"h","t":200,"v":0.7},{"c":"h","t":300,"v":0.6},
{"c":"i","t":0,"v":0},{"c":"i","t":1,"v":1},{"c":"i","t":2,"v":2.2},{"c":"i","t":4,"v":4.5},{"c":"i","t":6,"v":6.3},{"c":"i","t":10,"v":8},{"c":"i","t":15,"v":8.8},{"c":"i","t":20,"v":9},{"c":"i","t":30,"v":8.9},{"c":"i","t":30.5,"v":6.5},{"c":"i","t":31.5,"v":4.6},{"c":"i","t":33,"v":3.2},{"c":"i","t":35,"v":2.3},{"c":"i","t":38,"v":1.7},{"c":"i","t":42,"v":1.3},{"c":"i","t":50,"v":1},{"c":"i","t":100,"v":0.6},{"c":"i","t":300,"v":0.4},
{"c":"j","t":0,"v":0},{"c":"j","t":2,"v":1.2},{"c":"j","t":4,"v":2.4},{"c":"j","t":6,"v":3.3},{"c":"j","t":10,"v":4.2},{"c":"j","t":15,"v":4.6},{"c":"j","t":30,"v":4.7},{"c":"j","t":30.5,"v":3.4},{"c":"j","t":32,"v":2.2},{"c":"j","t":35,"v":1.3},{"c":"j","t":40,"v":0.8},{"c":"j","t":50,"v":0.5},{"c":"j","t":100,"v":0.3},{"c":"j","t":300,"v":0.2},
{"c":"k","t":0,"v":0},{"c":"k","t":2,"v":0.6},{"c":"k","t":5,"v":1.4},{"c":"k","t":10,"v":2},{"c":"k","t":15,"v":2.3},{"c":"k","t":30,"v":2.3},{"c":"k","t":31,"v":1.6},{"c":"k","t":35,"v":0.8},{"c":"k","t":45,"v":0.4},{"c":"k","t":100,"v":0.2},{"c":"k","t":300,"v":0.1},
{"c":"l","t":0,"v":0},{"c":"l","t":2,"v":0.3},{"c":"l","t":5,"v":0.6},{"c":"l","t":10,"v":0.9},{"c":"l","t":30,"v":1},{"c":"l","t":31,"v":0.7},{"c":"l","t":40,"v":0.3},{"c":"l","t":100,"v":0.1},{"c":"l","t":300,"v":0}],
"G_env":[{"g":"base","t":-20,"v":-0.8,"v2":0.8},{"g":"base","t":0,"v":-0.8,"v2":0.8},{"g":"diss","t":31,"v":-0.5,"v2":2.5},{"g":"diss","t":40,"v":-0.8,"v2":3.2},{"g":"diss","t":50,"v":-1,"v2":3},{"g":"diss","t":100,"v":-1.2,"v2":2.6},{"g":"diss","t":200,"v":-1.3,"v2":2.3},{"g":"diss","t":300,"v":-1.3,"v2":2.2}],
"G_txt":[{"t":304,"v":23.8,"lab":"a"},{"t":304,"v":15.4,"lab":"b"},{"t":304,"v":7.3,"lab":"c,d"},{"t":304,"v":-1,"lab":"e-l"}],
"G_in":[{"x":0,"y":0},{"x":1e-8,"y":7},{"x":2.5e-8,"y":18.8},{"x":5e-8,"y":30},{"x":1e-7,"y":44},{"x":1.5e-7,"y":52.5},{"x":2e-7,"y":59},{"x":3e-7,"y":66},{"x":4e-7,"y":70.5},{"x":5e-7,"y":73.7},{"x":6e-7,"y":75.8},{"x":7.5e-7,"y":78},{"x":1e-6,"y":80.6},{"x":1.25e-6,"y":81.8},{"x":1.5e-6,"y":82.7},{"x":1.75e-6,"y":83.5},{"x":2.05e-6,"y":84.2}],
"G_in_txt":[{"x":1.876e-6,"y":27,"lab":"Analyte: DMAV"}],
"G_in_ul":[{"x":1.053e-6,"x2":1.84e-6,"y":20.8}],
"H_a":[{"vol":0,"a":5},{"vol":0.4,"a":5.5},{"vol":0.8,"a":5.2},{"vol":1.2,"a":5},{"vol":1.5,"a":7},{"vol":1.7,"a":9.3},{"vol":1.9,"a":7.5},{"vol":2.2,"a":4},{"vol":2.6,"a":1.5},{"vol":3,"a":0.5},{"vol":4,"a":0},{"vol":5,"a":0},{"vol":6,"a":0.3},{"vol":7,"a":1},{"vol":8,"a":1.5},{"vol":10,"a":1.6},{"vol":12,"a":1.4},{"vol":14,"a":1.5},{"vol":15,"a":2},{"vol":15.5,"a":3},{"vol":16,"a":5},{"vol":16.5,"a":10},{"vol":17,"a":24},{"vol":17.3,"a":31},{"vol":17.6,"a":36},{"vol":18,"a":44},{"vol":18.3,"a":51},{"vol":18.5,"a":54},{"vol":18.7,"a":52},{"vol":19,"a":42},{"vol":19.3,"a":30},{"vol":19.7,"a":19},{"vol":20,"a":13},{"vol":20.5,"a":7},{"vol":21,"a":4},{"vol":22,"a":2},{"vol":24,"a":1.2},{"vol":26,"a":-0.2},{"vol":28,"a":-1.5},{"vol":30,"a":-2.6},{"vol":32,"a":-3.5},{"vol":34,"a":-4.5},{"vol":36,"a":-5.4},{"vol":38,"a":-6},{"vol":40,"a":-6.5}],
"H_n":[{"vol":0,"m":0.17},{"vol":36.8,"m":2},{"vol":40,"m":2}]
},
"spacing":25,
"resolve":{"scale":{"shape":"independent"},"legend":{"shape":"independent"}},
"vconcat":[
{"concat":[
{"width":278,"height":185,"title":{"text":"A","fontSize":30,"dx":-27,"offset":15},
"encoding":{"x":{"field":"t","type":"quantitative","scale":{"domain":[-10,400],"nice":false,"zero":false},"axis":{"values":[0,100,200,300,400],"title":"Time (sec)","titleFontSize":15}},
"y":{"field":"v","type":"quantitative","scale":{"domain":[-10,129.4],"nice":false,"zero":false},"axis":{"values":[0,50,100],"title":"Response (RU)","titleFontSize":15}}},
"layer":[
{"data":{"name":"A"},"mark":{"type":"line","color":"black","strokeWidth":2},"encoding":{"detail":{"field":"s"}}},
{"data":{"name":"A_arrow"},"mark":{"type":"rule","color":"black","strokeWidth":2},"encoding":{"x2":{"field":"t2"},"y2":{"field":"v2"}}},
{"data":{"name":"A_head"},"mark":{"type":"point","shape":"triangle-right","filled":true,"color":"black","opacity":1,"size":120,"angle":344},"encoding":{}},
{"data":{"name":"A_txt"},"mark":{"type":"text","fontSize":15,"fontWeight":"bold","align":"center","baseline":"middle"},"encoding":{"text":{"field":"lab"}}}]},
{"width":280,"height":185,"title":{"text":"B","fontSize":30,"dx":-4,"offset":7.5},
"encoding":{"x":{"field":"t","type":"quantitative","scale":{"domain":[-20,400],"nice":false,"zero":false},"axis":{"values":[0,100,200,300,400],"title":"Time (sec)","titleFontSize":15}},
"y":{"field":"v","type":"quantitative","scale":{"domain":[-10,100],"nice":false,"zero":false},"axis":{"values":[0,50,100],"title":"Response (RU)","titleFontSize":15}}},
"layer":[
{"data":{"name":"B_dat"},"mark":{"type":"line","color":"black","strokeWidth":1.8},"encoding":{"detail":{"field":"c"}}},
{"data":{"name":"B_tk"},"mark":{"type":"rule","color":"black","strokeWidth":1.5},"encoding":{"y2":{"field":"v2"}}},
{"data":{"name":"B_fit"},"mark":{"type":"line","color":"#e3231c","strokeWidth":1.3},"encoding":{"detail":{"field":"c"}}},
{"data":{"name":"B_txt"},"mark":{"type":"text","fontSize":19,"fontStyle":"italic","align":"center","baseline":"middle"},"encoding":{"text":{"field":"lab"}}},
{"data":{"name":"B_an"},"mark":{"type":"text","fontSize":16,"align":"center","baseline":"middle"},"encoding":{"text":{"field":"lab"}}},
{"data":{"name":"B_ul"},"mark":{"type":"rule","color":"#555555","strokeWidth":1},"encoding":{"x2":{"field":"t2"}}}]}
],"columns":2,"align":"none","spacing":54},
{"concat":[
{"width":281,"height":187,"title":{"text":"C","dx":-34,"offset":1.5},
"encoding":{"x":{"field":"t","type":"quantitative","scale":{"domain":[-20,400],"nice":false,"zero":false},"axis":{"values":[0,100,200,300,400],"title":"Time (sec)","titleFontSize":17.5}},
"y":{"field":"v","type":"quantitative","scale":{"domain":[-5,60],"nice":false,"zero":false},"axis":{"values":[0,20,40,60],"title":"Response (RU)","titleFontSize":16.5}}},
"layer":[
{"data":{"name":"C_dat"},"mark":{"type":"line","color":"black","strokeWidth":1.8},"encoding":{"detail":{"field":"c"}}},
{"data":{"name":"C_tk"},"mark":{"type":"rule","color":"black","strokeWidth":1.5},"encoding":{"y2":{"field":"v2"}}},
{"data":{"name":"C_fit"},"mark":{"type":"line","color":"#e3231c","strokeWidth":1.3},"encoding":{"detail":{"field":"c"}}},
{"data":{"name":"C_txt"},"mark":{"type":"text","fontSize":19,"fontStyle":"italic","align":"center","baseline":"middle"},"encoding":{"text":{"field":"lab"}}},
{"data":{"name":"C_an"},"mark":{"type":"text","fontSize":16,"align":"center","baseline":"middle"},"encoding":{"text":{"field":"lab"}}},
{"data":{"name":"C_ul"},"mark":{"type":"rule","color":"#555555","strokeWidth":1},"encoding":{"x2":{"field":"t2"}}}]},
{"width":271,"height":187,"title":{"text":"D","dx":-13,"offset":9.5},
"encoding":{"x":{"field":"t","type":"quantitative","scale":{"domain":[0,50],"nice":false,"zero":false},"axis":{"values":[0,10,20,30,40,50],"title":"Dextran Sulfate (nM)","titleFontSize":14.5}},
"y":{"field":"v","type":"quantitative","scale":{"domain":[0,100],"range":[187,8],"nice":false,"zero":false},"axis":{"values":[0,20,40,60,80,100],"title":"Response (RU)","titleFontSize":15}}},
"layer":[
{"data":{"name":"D_fit"},"mark":{"type":"line","color":"black","strokeWidth":2},"encoding":{"detail":{"field":"series"}}},
{"data":{"name":"D_pts"},"transform":[{"filter":"datum.s == 'DS500K'"}],"mark":{"type":"point","shape":"square","filled":true,"color":"black","opacity":1,"size":75},"encoding":{}},
{"data":{"name":"D_pts"},"transform":[{"filter":"datum.s == 'DS50K'"}],"mark":{"type":"point","shape":"circle","filled":true,"color":"black","opacity":1,"size":75},"encoding":{}},
{"data":{"name":"D_pts"},"mark":{"type":"point","filled":true,"color":"black","opacity":0,"size":75},
"encoding":{"shape":{"field":"s","type":"nominal","scale":{"domain":["DS500K","DS50K"],"range":["M-1.3,-0.12H-0.5V-0.5H0.5V-0.12H1.3V0.12H0.5V0.5H-0.5V0.12H-1.3Z","M-1.3,-0.12H1.3V0.12H-1.3Z M0.55,0A0.55,0.55,0,1,1,-0.55,0A0.55,0.55,0,1,1,0.55,0Z"]},
"legend":{"title":null,"orient":"none","legendX":148.5,"legendY":116.5,"padding":0,"symbolSize":289,"symbolFillColor":"black","symbolStrokeColor":"black","symbolStrokeWidth":0,"symbolOpacity":1,"labelFontSize":16,"labelFontWeight":"normal","labelColor":"black","labelFont":"Liberation Sans","labelOffset":12.5,"rowPadding":-1}}}}]}
],"columns":2,"align":"none","spacing":52,"resolve":{"scale":{"shape":"independent"},"legend":{"shape":"independent"}}},
{"concat":[
{"width":285,"height":189,"title":{"text":"E","dx":-33,"offset":-20.5},
"encoding":{"x":{"field":"t","type":"quantitative","scale":{"domain":[-20,400],"nice":false,"zero":false},"axis":{"values":[0,100,200,300,400],"title":"Time (sec)","titleFontSize":17.5}},
"y":{"field":"v","type":"quantitative","scale":{"domain":[-1,10],"nice":false,"zero":false},"axis":{"values":[0,5,10],"title":"Response (RU)","titleFontSize":16.5}}},
"layer":[
{"data":{"name":"E_env"},"mark":{"type":"area","color":"black","opacity":1},"encoding":{"y2":{"field":"v2"},"detail":{"field":"g"}}},
{"data":{"name":"E_blk"},"mark":{"type":"line","color":"black","strokeWidth":12},"encoding":{"detail":{"field":"c"}}},
{"data":{"name":"E_tk"},"mark":{"type":"rule","color":"black","strokeWidth":1.5},"encoding":{"y2":{"field":"v2"}}},
{"data":{"name":"E_fit"},"mark":{"type":"line","color":"#e3231c","strokeWidth":1.3},"encoding":{"detail":{"field":"c"}}},
{"data":{"name":"E_txt"},"mark":{"type":"text","fontSize":18,"fontStyle":"italic","align":"center","baseline":"middle"},"encoding":{"text":{"field":"lab"}}},
{"data":{"name":"E_an"},"mark":{"type":"text","fontSize":17,"align":"center","baseline":"middle"},"encoding":{"text":{"field":"lab"}}},
{"data":{"name":"E_ul"},"mark":{"type":"rule","color":"#555555","strokeWidth":1},"encoding":{"x2":{"field":"t2"}}}]},
{"width":281,"height":189,"title":{"text":"F","dx":-17,"offset":-17.5},
"encoding":{"x":{"field":"t","type":"quantitative","scale":{"domain":[-20,400],"nice":false,"zero":false},"axis":{"values":[0,100,200,300,400],"title":"Time (sec)","titleFontSize":17.5}},
"y":{"field":"v","type":"quantitative","scale":{"domain":[-2,20],"range":[189,2],"nice":false,"zero":false},"axis":{"values":[0,5,10,15,20],"title":"Response (RU)","titleFontSize":16.5}}},
"layer":[
{"data":{"name":"F_env"},"mark":{"type":"area","color":"black","opacity":1},"encoding":{"y2":{"field":"v2"},"detail":{"field":"g"}}},
{"data":{"name":"F_blk"},"mark":{"type":"line","color":"black","strokeWidth":5},"encoding":{"detail":{"field":"c"}}},
{"data":{"name":"F_tk"},"mark":{"type":"rule","color":"black","strokeWidth":1.5},"encoding":{"y2":{"field":"v2"}}},
{"data":{"name":"F_fit"},"mark":{"type":"line","color":"#e3231c","strokeWidth":1.3},"encoding":{"detail":{"field":"c"}}},
{"data":{"name":"F_txt"},"mark":{"type":"text","fontSize":18,"fontStyle":"italic","align":"center","baseline":"middle"},"encoding":{"text":{"field":"lab"}}},
{"data":{"name":"F_an"},"mark":{"type":"text","fontSize":17,"align":"center","baseline":"middle"},"encoding":{"text":{"field":"lab"}}},
{"data":{"name":"F_ul"},"mark":{"type":"rule","color":"#555555","strokeWidth":1},"encoding":{"x2":{"field":"t2"}}}]}
],"columns":2,"align":"none","spacing":57},
{"concat":[
{"width":304,"height":202,"title":{"text":"G","dx":-27,"offset":-19},
"layer":[
{"encoding":{"x":{"field":"t","type":"quantitative","scale":{"domain":[-20,300],"nice":false,"zero":false},"axis":{"values":[0,100,200,300],"title":"Time (sec)","titleFontSize":16}},
"y":{"field":"v","type":"quantitative","scale":{"domain":[-5,100],"nice":false,"zero":false},"axis":{"values":[0,50,100],"title":"Response (RU)","titleFontSize":16.5}}},
"layer":[
{"data":{"name":"G_env"},"mark":{"type":"area","color":"black","opacity":1},"encoding":{"y2":{"field":"v2"},"detail":{"field":"g"}}},
{"data":{"name":"G"},"mark":{"type":"line","color":"black","strokeWidth":1.4},"encoding":{"detail":{"field":"c"}}},
{"data":{"name":"G_txt"},"mark":{"type":"text","fontSize":13,"fontWeight":"bold","fontStyle":"italic","align":"left","baseline":"middle"},"encoding":{"text":{"field":"lab"}}}]},
{"encoding":{"x":{"field":"x","type":"quantitative","scale":{"domain":[0,2.6e-6],"range":[112,294],"nice":false,"zero":false},"axis":{"orient":"bottom","offset":-96,"values":[0,5e-7,1e-6,1.5e-6,2e-6],"labelExpr":"datum.value == 0 ? '0' : datum.value < 7e-7 ? '5.0×10⁻⁷' : datum.value < 1.2e-6 ? '1.0×10⁻⁶' : datum.value < 1.7e-6 ? '1.5×10⁻⁶' : '2.0×10⁻⁶'","title":"DMAV (M)","labelFontSize":7,"titleFontSize":8,"tickSize":3,"tickWidth":1.5,"domainWidth":1.5,"titlePadding":2,"labelPadding":1}},
"y":{"field":"y","type":"quantitative","scale":{"domain":[0,100],"range":[106,-14],"nice":false,"zero":false},"axis":{"orient":"left","offset":-112,"values":[0,20,40,60,80,100],"title":"Response (RU)","labelFontSize":7,"titleFontSize":8,"tickSize":3,"tickWidth":1.5,"domainWidth":1.5,"titlePadding":3,"labelPadding":1}}},
"layer":[
{"data":{"name":"G_in"},"mark":{"type":"line","color":"black","strokeWidth":1.8}},
{"data":{"name":"G_in_txt"},"mark":{"type":"text","fontSize":16.5,"align":"center","baseline":"middle"},"encoding":{"text":{"field":"lab"}}},
{"data":{"name":"G_in_ul"},"mark":{"type":"rule","color":"#555555","strokeWidth":1},"encoding":{"x2":{"field":"x2"}}}]}
],
"resolve":{"scale":{"x":"independent","y":"independent"}}},
{"width":284,"height":201,"title":{"text":"H","dx":-11,"offset":1.5},
"layer":[
{"data":{"name":"H_a"},"mark":{"type":"line","color":"black","strokeWidth":2},
"encoding":{"x":{"field":"vol","type":"quantitative","scale":{"domain":[0,40],"nice":false,"zero":false},"axis":{"values":[0,10,20,30,40],"title":"Retention Volume (ml)","titleFontSize":15.5}},
"y":{"field":"a","type":"quantitative","scale":{"domain":[-10,100],"range":[201,12],"nice":false,"zero":false},"axis":{"values":[0,50,100],"title":"—A280 nm (mAU)","titleFontSize":15.5}}}},
{"data":{"name":"H_n"},"mark":{"type":"line","color":"#e3231c","strokeWidth":2.2,"strokeDash":[7,4]},
"encoding":{"x":{"field":"vol","type":"quantitative"},
"y":{"field":"m","type":"quantitative","scale":{"domain":[0,2],"range":[201,12],"nice":false,"zero":false},"axis":{"orient":"right","values":[0,0.5,1,1.5,2],"format":".1f","title":"---NaCl (M)","titleFontSize":14.5,"titlePadding":2}}}}],
"resolve":{"scale":{"y":"independent"}}}
],"columns":2,"align":"none","spacing":26}
]
}
